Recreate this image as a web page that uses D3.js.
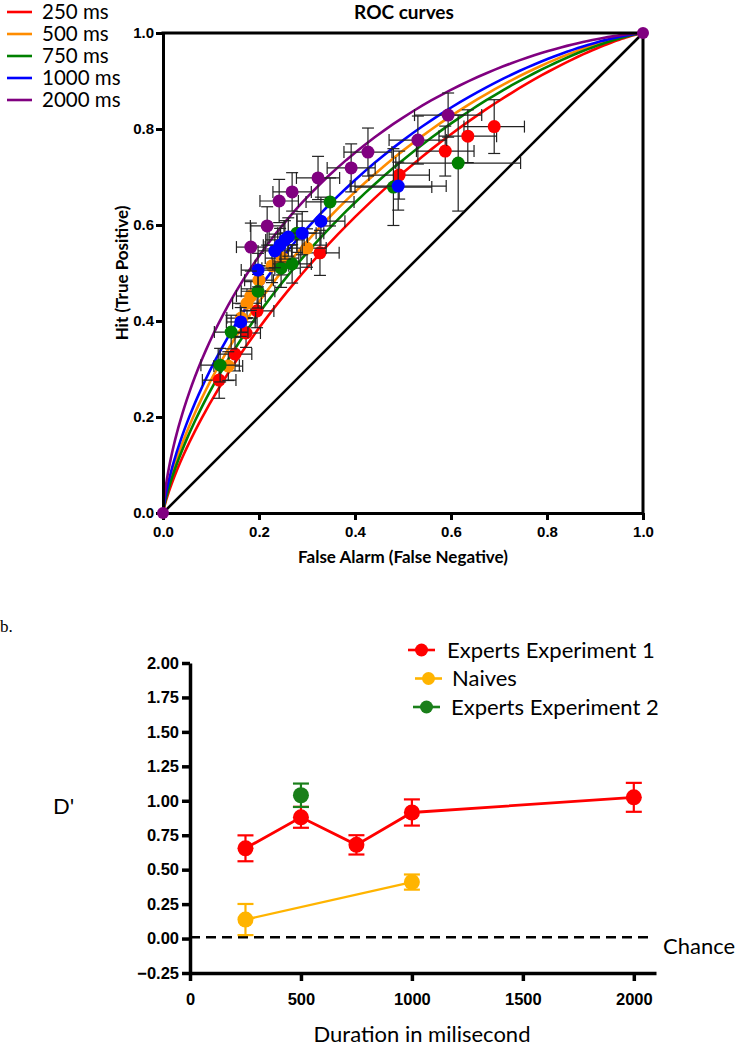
<!DOCTYPE html>
<html>
<head>
<meta charset="utf-8">
<script src="https://cdn.jsdelivr.net/npm/d3@7"></script>
<style>
  body { margin: 0; background: #fff; }
  svg { display: block; font-family: Lato, "Open Sans", sans-serif; }
</style>
</head>
<body>
<div id="vis"></div>
<script>
// ---- panel a: ROC data ----
const durations = ["250 ms", "500 ms", "750 ms", "1000 ms", "2000 ms"]
const rocColors = ["#ff0000", "#ff8c00", "#008000", "#0000ff", "#800080"]
// d' of the fitted binormal curve for each duration
const curveDprime = [0.55, 0.69, 0.63, 0.76, 0.93]

const fa250 = [0.117, 0.15, 0.173, 0.196, 0.327, 0.492, 0.588, 0.635, 0.69]
const hit250 = [0.277, 0.331, 0.375, 0.421, 0.542, 0.704, 0.754, 0.785, 0.805]
const faErr250 = [0.035, 0.035, 0.03, 0.035, 0.04, 0.063, 0.06, 0.06, 0.063]
const hitErr250 = [0.038, 0.035, 0.03, 0.035, 0.047, 0.05, 0.052, 0.055, 0.056]

const fa500 = [0.136, 0.163, 0.175, 0.183, 0.2, 0.227, 0.248, 0.3]
const hit500 = [0.306, 0.406, 0.437, 0.452, 0.485, 0.515, 0.531, 0.552]
const faErr500 = [0.03, 0.03, 0.03, 0.03, 0.03, 0.035, 0.035, 0.04]
const hitErr500 = [0.03, 0.03, 0.03, 0.03, 0.03, 0.035, 0.035, 0.04]

const fa750 = [0.119, 0.142, 0.198, 0.246, 0.269, 0.279, 0.348, 0.48, 0.615]
const hit750 = [0.308, 0.377, 0.462, 0.51, 0.519, 0.583, 0.648, 0.679, 0.729]
const faErr750 = [0.04, 0.035, 0.035, 0.04, 0.04, 0.04, 0.05, 0.08, 0.13]
const hitErr750 = [0.035, 0.035, 0.035, 0.04, 0.04, 0.04, 0.05, 0.08, 0.1]

const fa1000 = [0.162, 0.198, 0.233, 0.244, 0.254, 0.261, 0.29, 0.329, 0.49]
const hit1000 = [0.398, 0.506, 0.546, 0.558, 0.569, 0.575, 0.583, 0.608, 0.681]
const faErr1000 = [0.03, 0.035, 0.035, 0.035, 0.04, 0.04, 0.045, 0.05, 0.1]
const hitErr1000 = [0.03, 0.035, 0.035, 0.035, 0.04, 0.04, 0.045, 0.05, 0.05]

const fa2000 = [0.183, 0.217, 0.242, 0.269, 0.323, 0.392, 0.427, 0.531, 0.594]
const hit2000 = [0.554, 0.598, 0.65, 0.669, 0.698, 0.719, 0.752, 0.777, 0.829]
const faErr2000 = [0.03, 0.035, 0.04, 0.04, 0.045, 0.05, 0.05, 0.06, 0.07]
const hitErr2000 = [0.05, 0.04, 0.045, 0.04, 0.045, 0.05, 0.05, 0.05, 0.046]

const rocTicks = [0, 0.2, 0.4, 0.6, 0.8, 1.0]

// ---- panel b: d' by duration ----
const groups = ["Experts Experiment 1", "Naives", "Experts Experiment 2"]
const groupColors = ["#ff0000", "#ffb400", "#1a7f1a"]
const expert1Dur = [250, 500, 750, 1000, 2000]
const expert1D = [0.655, 0.88, 0.68, 0.915, 1.025]
const expert1Err = [0.094, 0.076, 0.07, 0.095, 0.105]
const naiveDur = [250, 1000]
const naiveD = [0.138, 0.41]
const naiveErr = [0.113, 0.055]
const expert2Dur = [500]
const expert2D = [1.04]
const expert2Err = [0.085]
const dTicks = [-0.25, 0, 0.25, 0.5, 0.75, 1.0, 1.25, 1.5, 1.75, 2.0]
const durTicks = [0, 500, 1000, 1500, 2000]

const svg = d3.select("#vis").append("svg")
    .attr("width", 737)
    .attr("height", 1050)

// ================= panel a =================
const xA = d3.scaleLinear().domain([0, 1]).range([163, 643])
const yA = d3.scaleLinear().domain([0, 1]).range([513, 33])

const rocSeries = [
    {fa: fa250, hit: hit250, fe: faErr250, he: hitErr250},
    {fa: fa500, hit: hit500, fe: faErr500, he: hitErr500},
    {fa: fa750, hit: hit750, fe: faErr750, he: hitErr750},
    {fa: fa1000, hit: hit1000, fe: faErr1000, he: hitErr1000},
    {fa: fa2000, hit: hit2000, fe: faErr2000, he: hitErr2000},
]

// standard normal cdf
function phi(z) {
    const t = 1 / (1 + 0.3275911 * Math.abs(z) / Math.SQRT2)
    const y = 1 - (((((1.061405429 * t - 1.453152027) * t) + 1.421413741) * t - 0.284496736) * t + 0.254829592) * t * Math.exp(-z * z / 2)
    return z >= 0 ? 0.5 * (1 + y) : 0.5 * (1 - y)
}

const crit = d3.range(-5, 5.001, 0.05)
const rocLine = d3.line().x(d => xA(d[0])).y(d => yA(d[1]))

const gA = svg.append("g")

// fitted curves
curveDprime.forEach((dp, i) => {
    let pts = [[1, 1]]
    crit.forEach(c => pts.push([phi(-c), phi(dp - c)]))
    pts.push([0, 0])
    gA.append("path")
        .attr("d", rocLine(pts))
        .attr("fill", "none")
        .attr("stroke", rocColors[i])
        .attr("stroke-width", 2.6)
})

// chance diagonal
gA.append("line")
    .attr("x1", xA(0)).attr("y1", yA(0))
    .attr("x2", xA(1)).attr("y2", yA(1))
    .attr("stroke", "black").attr("stroke-width", 2.6)

// axes
const xAxisA = d3.axisBottom(xA).tickValues(rocTicks).tickFormat(d3.format(".1f")).tickSize(7).tickSizeOuter(0)
const yAxisA = d3.axisLeft(yA).tickValues(rocTicks).tickFormat(d3.format(".1f")).tickSize(7).tickSizeOuter(0)
const gx = gA.append("g").attr("transform", "translate(0,513)").call(xAxisA)
const gy = gA.append("g").attr("transform", "translate(163,0)").call(yAxisA)
;[gx, gy].forEach(g => {
    g.select(".domain").attr("stroke", "black").attr("stroke-width", 3)
    g.selectAll(".tick line").attr("stroke", "black").attr("stroke-width", 3)
    g.selectAll(".tick text").attr("font-size", 15).attr("font-weight", "bold").attr("fill", "black")
})
gx.selectAll(".tick text").attr("dy", "0.95em")
gy.selectAll(".tick text").attr("dx", "1px")

// top and right border
gA.append("line").attr("x1", xA(0) - 1.5).attr("x2", xA(1) + 1.5).attr("y1", yA(1)).attr("y2", yA(1))
    .attr("stroke", "black").attr("stroke-width", 3)
gA.append("line").attr("x1", xA(1)).attr("x2", xA(1)).attr("y1", yA(1)).attr("y2", yA(0))
    .attr("stroke", "black").attr("stroke-width", 3)

// error bars and points
rocSeries.forEach((s, i) => {
    const g = gA.append("g")
    s.fa.forEach((f, j) => {
        const h = s.hit[j], fe = s.fe[j], he = s.he[j]
        const eb = g.append("g").attr("stroke", "#222").attr("stroke-width", 1.2)
        eb.append("line").attr("x1", xA(f - fe)).attr("x2", xA(f + fe)).attr("y1", yA(h)).attr("y2", yA(h))
        eb.append("line").attr("x1", xA(f)).attr("x2", xA(f)).attr("y1", yA(h - he)).attr("y2", yA(h + he))
        ;[f - fe, f + fe].forEach(v => eb.append("line")
            .attr("x1", xA(v)).attr("x2", xA(v)).attr("y1", yA(h) - 6).attr("y2", yA(h) + 6))
        ;[h - he, h + he].forEach(v => eb.append("line")
            .attr("x1", xA(f) - 6).attr("x2", xA(f) + 6).attr("y1", yA(v)).attr("y2", yA(v)))
    })
    g.selectAll("circle")
        .data(s.fa.map((f, j) => [f, s.hit[j]]))
        .enter().append("circle")
        .attr("cx", d => xA(d[0])).attr("cy", d => yA(d[1]))
        .attr("r", 6.5).attr("fill", rocColors[i])
})
// end points
;[[0, 0], [1, 1]].forEach(d => gA.append("circle")
    .attr("cx", xA(d[0])).attr("cy", yA(d[1])).attr("r", 6).attr("fill", rocColors[4]))

// titles
gA.append("text").attr("x", 404).attr("y", 19).attr("text-anchor", "middle")
    .attr("font-size", 19).attr("font-weight", "bold").text("ROC curves")
gA.append("text").attr("x", 403).attr("y", 563).attr("text-anchor", "middle")
    .attr("font-size", 17).attr("font-weight", "bold").text("False Alarm (False Negative)")
gA.append("text").attr("transform", "translate(128,273) rotate(-90)").attr("text-anchor", "middle")
    .attr("font-size", 17).attr("font-weight", "bold").text("Hit (True Positive)")

// legend
durations.forEach((d, i) => {
    const y = 12 + i * 22
    gA.append("line").attr("x1", 7).attr("x2", 32).attr("y1", y).attr("y2", y)
        .attr("stroke", rocColors[i]).attr("stroke-width", 2.6)
    gA.append("text").attr("x", 42).attr("y", y).attr("dy", "0.36em")
        .attr("font-size", 20.5).text(d)
})

// ================= panel b =================
const xB = d3.scaleLinear().domain([0, 2100]).range([190, 656])
const yB = d3.scaleLinear().domain([-0.25, 2.0]).range([973, 663])
const gB = svg.append("g")

gB.append("text").attr("x", 0).attr("y", 632).attr("font-family", "'Liberation Serif', serif")
    .attr("font-size", 17).text("b.")

const xAxisB = d3.axisBottom(xB).tickValues(durTicks).tickFormat(d3.format("d")).tickSize(8).tickSizeOuter(0)
const yAxisB = d3.axisLeft(yB).tickValues(dTicks).tickFormat(d3.format(".2f")).tickSize(8).tickSizeOuter(0)
const gxb = gB.append("g").attr("transform", "translate(0,973)").call(xAxisB)
const gyb = gB.append("g").attr("transform", "translate(190,0)").call(yAxisB)
;[gxb, gyb].forEach(g => {
    g.select(".domain").attr("stroke", "black").attr("stroke-width", 3.5)
    g.selectAll(".tick line").attr("stroke", "black").attr("stroke-width", 3.5)
    g.selectAll(".tick text").attr("font-size", 16.5).attr("font-weight", "bold").attr("fill", "black")
})
gxb.selectAll(".tick text").attr("dy", "1.25em")

// chance line
gB.append("line").attr("x1", xB(0)).attr("x2", xB(2080)).attr("y1", yB(0.01)).attr("y2", yB(0.01))
    .attr("stroke", "black").attr("stroke-width", 2.5).attr("stroke-dasharray", "10,6")
gB.append("text").attr("x", 663).attr("y", yB(0.01)).attr("dy", "0.75em").attr("font-size", 22).text("Chance")

const bSeries = [
    {x: expert1Dur, y: expert1D, e: expert1Err, w: 2.8},
    {x: naiveDur, y: naiveD, e: naiveErr, w: 2.4},
    {x: expert2Dur, y: expert2D, e: expert2Err, w: 2.4},
]
const lineB = d3.line().x(d => xB(d[0])).y(d => yB(d[1]))
bSeries.forEach((s, i) => {
    const pts = s.x.map((v, j) => [v, s.y[j], s.e[j]])
    const g = gB.append("g")
    g.append("path").attr("d", lineB(pts)).attr("fill", "none")
        .attr("stroke", groupColors[i]).attr("stroke-width", s.w)
    pts.forEach(d => {
        const eb = g.append("g").attr("stroke", groupColors[i]).attr("stroke-width", 2.2)
        eb.append("line").attr("x1", xB(d[0])).attr("x2", xB(d[0])).attr("y1", yB(d[1] - d[2])).attr("y2", yB(d[1] + d[2]))
        ;[d[1] - d[2], d[1] + d[2]].forEach(v => eb.append("line")
            .attr("x1", xB(d[0]) - 8).attr("x2", xB(d[0]) + 8).attr("y1", yB(v)).attr("y2", yB(v)))
    })
    g.selectAll("circle").data(pts).enter().append("circle")
        .attr("cx", d => xB(d[0])).attr("cy", d => yB(d[1])).attr("r", 8).attr("fill", groupColors[i])
})

// legend b
const legX = [408, 415, 413]
const legTextX = [447, 452, 451]
groups.forEach((gname, i) => {
    const y = 650 + i * 28.5
    gB.append("line").attr("x1", legX[i]).attr("x2", legX[i] + 27).attr("y1", y).attr("y2", y)
        .attr("stroke", groupColors[i]).attr("stroke-width", 2.6)
    gB.append("circle").attr("cx", legX[i] + 13.5).attr("cy", y).attr("r", 6.5).attr("fill", groupColors[i])
    gB.append("text").attr("x", legTextX[i]).attr("y", y).attr("dy", "0.36em").attr("font-size", 22).text(gname)
})

gB.append("text").attr("x", 53).attr("y", 806).attr("dy", "0.36em").attr("font-size", 22).text("D'")
gB.append("text").attr("x", 422).attr("y", 1034).attr("dy", "0.36em").attr("text-anchor", "middle")
    .attr("font-size", 22).text("Duration in milisecond")
</script>
</body>
</html>
